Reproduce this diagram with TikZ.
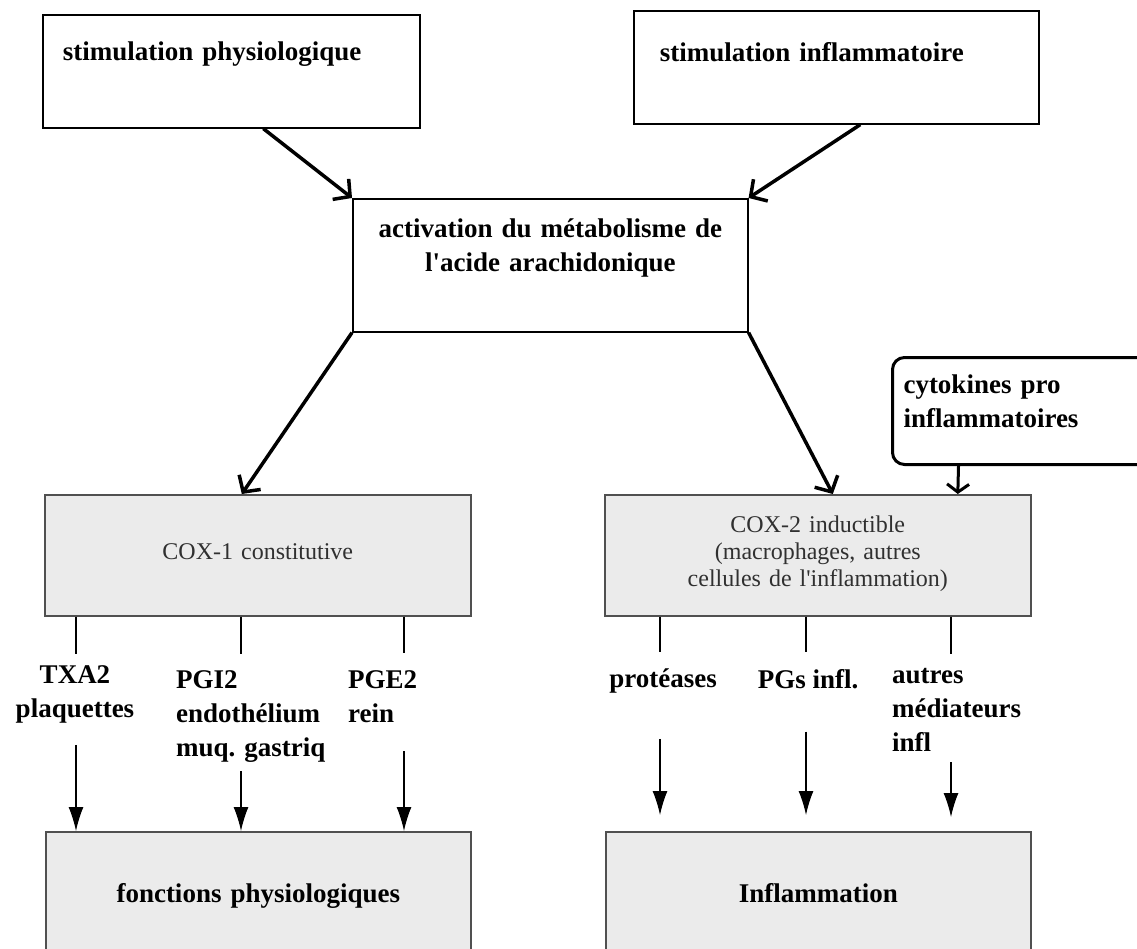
\documentclass[tikz,border=0pt]{standalone}
\usepackage{fontspec}
\setmainfont{Liberation Serif}
\usetikzlibrary{arrows.meta}
\definecolor{boxgray}{HTML}{EBEBEB}
\definecolor{edgegray}{HTML}{505050}
\definecolor{textgray}{HTML}{303030}

\begin{document}
\begin{tikzpicture}[x=1pt,y=-1pt,
  every node/.style={font=\fontsize{27}{34}\selectfont\bfseries,inner sep=0pt},
  whitebox/.style={draw=black,line width=1.6pt,fill=white},
  greybox/.style={draw=edgegray,line width=1.6pt,fill=boxgray,align=center},
  coxtext/.style={font=\fontsize{24}{27}\selectfont,text=textgray},
  bigarrow/.style={line width=3.5pt,-{Straight Barb[length=12pt,width=26pt]}},
  thinline/.style={line width=1.2pt},
  thinarrow/.style={line width=1.2pt,-{Latex[length=24pt,width=15pt]}}]

  \clip (0,0) rectangle (1137,949);
  \fill[white] (0,0) rectangle (1137,949);

  % stimuli and arachidonic acid
  \node[whitebox,anchor=north west,inner xsep=20pt,text width=337pt,align=left,text height=46pt,text depth=67pt] (phys) at (42,14) {stimulation physiologique};
  \node[whitebox,anchor=north west,inner xsep=26pt,text width=353pt,align=left,text height=51pt,text depth=62pt] (infl) at (633,10) {stimulation inflammatoire};
  \node[whitebox,anchor=north west,text width=395pt,align=center,text height=39pt,text depth=94pt] (arach) at (352,198) {activation du métabolisme de\\l\textquotesingle acide arachidonique};

  % enzymes
  \node[greybox,coxtext,anchor=north west,text width=426pt,text height=65pt,text depth=56pt] (cox1) at (44,494) {COX-1 constitutive};
  \node[greybox,coxtext,anchor=north west,text width=426pt,text height=38pt,text depth=83pt] (cox2) at (604,494) {COX-2 inductible\\(macrophages, autres\\cellules de l\textquotesingle inflammation)};
  \node[whitebox,line width=3pt,rounded corners=12pt,anchor=north west,inner xsep=11pt,text width=240pt,align=left,text height=36pt,text depth=71pt] (cyto) at (891,356) {cytokines pro\\inflammatoires};

  % effects
  \node[greybox,anchor=north west,text width=425pt,text height=71pt,text depth=63pt] (fonc) at (45,831) {fonctions physiologiques};
  \node[greybox,anchor=north west,text width=425pt,text height=71pt,text depth=63pt] (inflam) at (605,831) {Inflammation};

  % base anchor = last line
  \node[align=center,anchor=base] (txa) at (75,717) {TXA2\\plaquettes};
  \node[align=left,anchor=base west] (pgi) at (176,756) {PGI2\\endothélium\\muq. gastriq};
  \node[align=left,anchor=base west] (pge) at (348,722) {PGE2\\rein};
  \node[anchor=base] (prot) at (663,687) {protéases};
  \node[anchor=base] (pgs) at (808,688) {PGs infl.};
  \node[align=left,anchor=base west] (autres) at (892,751) {autres\\médiateurs\\infl};

  \coordinate (a1) at (76,0);
  \coordinate (a2) at (241,0);
  \coordinate (a3) at (404,0);
  \coordinate (b1) at (660,0);
  \coordinate (b2) at (806,0);
  \coordinate (b3) at (951,0);

  \draw[bigarrow] ([xshift=32pt]phys.south) -- (arach.north west);
  \draw[bigarrow] ([xshift=24pt]infl.south) -- (arach.north east);
  \draw[bigarrow] (arach.south west) -- ([xshift=-16pt]cox1.north);
  \draw[bigarrow] (arach.south east) -- ([xshift=15pt]cox2.north);
  \draw[line width=3pt,-{Straight Barb[length=8pt,width=22pt]}] ([xshift=-65pt]cyto.south) -- ([xshift=140pt]cox2.north);

  \draw[thinline,shorten >=11pt] (cox1.south -| a1) -- (txa.north -| a1);
  \draw[thinline,shorten >=16pt] (cox1.south -| a2) -- (pgi.north -| a2);
  \draw[thinline,shorten >=17pt] (cox1.south -| a3) -- (pge.north -| a3);
  \draw[thinline,shorten >=16pt] (cox2.south -| b1) -- (prot.north -| b1);
  \draw[thinline,shorten >=17pt] (cox2.south -| b2) -- (pgs.north -| b2);
  \draw[thinline,shorten >=14pt] (cox2.south -| b3) -- (autres.north -| b3);

  \draw[thinarrow,shorten <=22pt] (txa.south -| a1) -- (fonc.north -| a1);
  \draw[thinarrow,shorten <=9pt] (pgi.south -| a2) -- (fonc.north -| a2);
  \draw[thinarrow,shorten <=29pt] (pge.south -| a3) -- (fonc.north -| a3);
  \draw[thinarrow,shorten <=46pt,shorten >=16pt] (prot.south -| b1) -- (inflam.north -| b1);
  \draw[thinarrow,shorten <=43pt,shorten >=16pt] (pgs.south -| b2) -- (inflam.north -| b2);
  \draw[thinarrow,shorten <=11pt,shorten >=14pt] (autres.south -| b3) -- (inflam.north -| b3);
\end{tikzpicture}
\end{document}
